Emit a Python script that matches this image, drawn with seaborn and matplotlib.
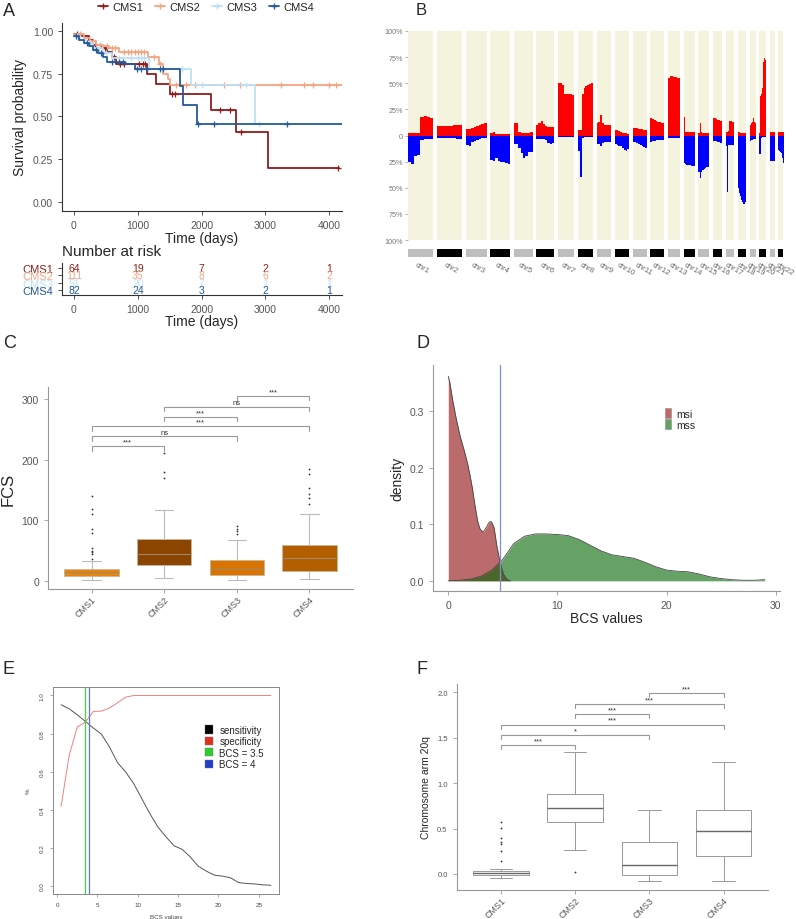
import numpy as np
import matplotlib
matplotlib.use('Agg')
import matplotlib.pyplot as plt
import matplotlib.transforms as mtransforms
from matplotlib.lines import Line2D
from matplotlib.patches import Patch
import seaborn as sns

sns.set_theme(style='ticks')
plt.rcParams['font.family'] = ['Liberation Sans', 'DejaVu Sans']

# ---------------- data ----------------
groups = ['CMS1', 'CMS2', 'CMS3', 'CMS4']
km_colors = ['#8E1E1E', '#F4A582', '#BDE0F6', '#255A9B']

# A: Kaplan-Meier step points (days, survival probability) and censor times
km1_time = [0, 120, 230, 300, 420, 520, 600, 660, 1150, 1290, 1500, 2140, 2540, 3040, 4150]
km1_surv = [0.98, 0.97, 0.95, 0.92, 0.90, 0.88, 0.85, 0.81, 0.75, 0.69, 0.63, 0.54, 0.41, 0.20, 0.20]
km1_cens = [40, 330, 480, 620, 720, 780, 1020, 1080, 1120, 1530, 1580, 2290, 2450, 2610, 4130]

km2_time = [0, 150, 250, 350, 450, 550, 700, 1160, 1330, 1400, 1470, 1510, 4200]
km2_surv = [0.98, 0.96, 0.94, 0.92, 0.91, 0.90, 0.88, 0.85, 0.81, 0.75, 0.72, 0.685, 0.685]
km2_cens = [100, 300, 400, 520, 600, 650, 780, 850, 900, 950, 1000, 1050, 1100, 1250, 1350,
            1600, 1750, 1900, 2350, 2600, 3250, 3600, 3750, 4000, 4100]

km3_time = [0, 100, 200, 300, 450, 600, 1170, 1840, 2830, 2910]
km3_surv = [0.97, 0.95, 0.93, 0.90, 0.87, 0.84, 0.78, 0.685, 0.456, 0.456]
km3_cens = [50, 250, 500, 700, 900, 1000, 1050, 1100, 1700, 2000, 2700, 2900]

km4_time = [0, 80, 160, 230, 300, 380, 450, 520, 800, 960, 1665, 1710, 1920, 4200]
km4_surv = [0.97, 0.95, 0.93, 0.91, 0.89, 0.87, 0.85, 0.82, 0.81, 0.78, 0.68, 0.57, 0.455, 0.455]
km4_cens = [30, 200, 350, 420, 600, 700, 770, 980, 1050, 1150, 1350, 1400, 1950, 2200, 3340]

risk_times = [0, 1000, 2000, 3000, 4000]
risk_cms1 = [64, 19, 7, 2, 1]
risk_cms2 = [111, 35, 8, 6, 2]
risk_cms3 = [51, 20, 7, 1, 1]
risk_cms4 = [82, 24, 3, 2, 1]

# B: copy number gain / loss frequency (%), 8 bins per chromosome
chrom_names = ['chr%d' % i for i in range(1, 23)]
chrom_len_mb = [249, 243, 198, 191, 181, 171, 159, 146, 141, 136, 135, 134,
                115, 107, 103, 90, 81, 78, 59, 63, 48, 51]
chrom_gain = [
    [2, 2, 2, 2, 18, 19, 18, 17], [9, 9, 9, 9, 9, 10, 10, 10], [6, 6, 7, 8, 9, 10, 11, 12],
    [2, 3, 1, 1, 1, 1, 1, 1], [12, 12, 3, 2, 2, 2, 2, 3], [10, 12, 14, 11, 9, 8, 8, 8],
    [50, 50, 48, 40, 40, 40, 40, 39], [5, 5, 40, 45, 47, 48, 49, 50], [12, 13, 20, 12, 10, 10, 10, 10],
    [5, 5, 4, 3, 2, 2, 2, 1], [7, 7, 7, 6, 6, 6, 5, 5], [17, 16, 15, 14, 13, 13, 12, 12],
    [55, 57, 57, 56, 56, 56, 55, 55], [18, 3, 3, 3, 3, 3, 3, 3], [2, 12, 3, 2, 2, 2, 2, 2],
    [17, 17, 17, 16, 15, 15, 14, 14], [3, 3, 4, 14, 14, 14, 13, 13], [3, 3, 2, 2, 2, 2, 2, 2],
    [8, 10, 12, 13, 15, 17, 13, 12], [2, 38, 40, 45, 55, 70, 74, 72], [15, 3, 3, 3, 3, 3, 3, 3],
    [3, 3, 3, 3, 3, 3, 3, 3]]
chrom_loss = [
    [25, 27, 20, 19, 4, 3, 3, 3], [2, 2, 2, 2, 2, 2, 3, 3], [9, 10, 6, 5, 4, 3, 2, 2],
    [23, 24, 22, 24, 25, 25, 26, 27], [8, 8, 12, 17, 22, 20, 16, 16], [3, 3, 3, 3, 4, 7, 8, 7],
    [1, 1, 1, 1, 1, 1, 1, 1], [15, 40, 2, 1, 1, 1, 1, 1], [8, 8, 10, 7, 6, 6, 6, 6],
    [8, 9, 10, 10, 12, 14, 15, 13], [6, 6, 7, 8, 9, 10, 11, 12], [6, 5, 5, 4, 4, 4, 4, 4],
    [2, 2, 2, 2, 2, 2, 2, 2], [26, 27, 28, 28, 28, 29, 29, 29], [35, 41, 35, 33, 32, 31, 30, 30],
    [5, 5, 5, 5, 6, 6, 7, 7], [10, 54, 9, 9, 9, 9, 9, 9], [50, 55, 58, 62, 64, 66, 66, 64],
    [5, 5, 4, 4, 4, 3, 3, 3], [18, 18, 2, 1, 1, 1, 1, 1], [22, 24, 24, 24, 24, 24, 24, 24],
    [14, 15, 15, 16, 17, 18, 22, 26]]

# C: FCS box summaries per CMS
fcs_q1 = [8.3, 26.4, 9.9, 15.4]
fcs_med = [13.8, 44, 19.3, 38]
fcs_q3 = [19.3, 68.8, 33.6, 59.4]
fcs_lo = [1, 3.9, 1, 2.2]
fcs_hi = [32, 116, 66.6, 109.5]
fcs_out = [[140, 119, 110, 86, 78, 53, 49.5, 47, 44, 35], [210.7, 178.8, 169],
           [89.7, 85, 82, 77], [184, 176, 153, 143, 136.4, 127]]
fcs_fill = ['#E8850F', '#8B4500', '#D97400', '#B35F00']
c_pairs = [(0, 1), (0, 2), (0, 3), (1, 2), (1, 3), (2, 3)]
c_labels = ['***', 'ns', '***', '***', 'ns', '***']
c_heights = [221.8, 238.3, 254.8, 270.6, 287, 305]

# D: density curves of BCS values
msi_x = [0, 0.15, 0.4, 0.75, 1.1, 1.5, 1.8, 2.0, 2.2, 2.45, 2.7, 2.9, 3.2, 3.5, 3.75, 3.95,
         4.2, 4.45, 4.75, 5.05, 5.35, 5.7]
msi_d = [0.362, 0.35, 0.32, 0.285, 0.255, 0.228, 0.205, 0.186, 0.165, 0.133, 0.105, 0.092,
         0.086, 0.095, 0.104, 0.105, 0.094, 0.062, 0.032, 0.012, 0.003, 0.0]
mss_x = list(range(0, 30))
mss_d = [0.0, 0.001, 0.003, 0.008, 0.019, 0.038, 0.066, 0.079, 0.083, 0.083, 0.082, 0.080,
         0.073, 0.063, 0.053, 0.046, 0.043, 0.040, 0.033, 0.025, 0.019, 0.017, 0.016, 0.012,
         0.007, 0.004, 0.002, 0.001, 0.001, 0.002]
bcs_cut = 4.77

# E: sensitivity / specificity by BCS threshold
bcs_thr = [i + 0.5 for i in range(27)]
sensitivity = [0.951, 0.930, 0.899, 0.864, 0.829, 0.797, 0.729, 0.647, 0.598, 0.537, 0.458,
               0.379, 0.309, 0.257, 0.210, 0.192, 0.152, 0.103, 0.077, 0.056, 0.051, 0.042,
               0.017, 0.012, 0.010, 0.005, 0.003]
specificity = [0.418, 0.685, 0.834, 0.860, 0.916, 0.918, 0.934, 0.962, 0.991] + [1.0] * 18
e_cutoffs = [3.5, 4]

# F: chromosome arm 20q box summaries
arm_q1 = [-0.011, 0.569, -0.007, 0.202]
arm_med = [0.007, 0.727, 0.103, 0.47]
arm_q3 = [0.029, 0.884, 0.349, 0.708]
arm_lo = [-0.048, 0.264, -0.081, -0.081]
arm_hi = [0.055, 1.343, 0.705, 1.229]
arm_out = [[0.576, 0.503, 0.393, 0.349, 0.330, 0.253, 0.147], [0.018], [], []]
f_pairs = [(0, 1), (0, 2), (0, 3), (1, 2), (1, 3), (2, 3)]
f_labels = ['***', '*', '***', '***', '***', '***']
f_heights = [1.417, 1.530, 1.644, 1.758, 1.868, 1.989]

# ---------------- figure ----------------
W, H = 796, 920
fig = plt.figure(figsize=(W / 100, H / 100), dpi=100)
txt_grey = '#555555'


def px_axes(left, top, right, bottom):
    return fig.add_axes([left / W, 1 - bottom / H, (right - left) / W, (bottom - top) / H])


def step_value(times, surv, at):
    idx = np.searchsorted(times, at, side='right') - 1
    return np.asarray(surv)[idx]


def style_gg(ax, spine_col='#999999', size=7.5):
    sns.despine(ax=ax)
    for s in ['left', 'bottom']:
        ax.spines[s].set_color(spine_col)
        ax.spines[s].set_linewidth(0.8)
    ax.tick_params(labelsize=size, labelcolor=txt_grey, color=spine_col, length=3, width=0.6)


def tilt_xlabels(ax, size):
    ax.tick_params(axis='x', labelsize=size, pad=1)
    for lab in ax.get_xticklabels():
        lab.set_rotation(45)
        lab.set_ha('right')
        lab.set_rotation_mode('anchor')


# panel labels
for lab, x, y, fs in [('A', 3, 3, 13), ('B', 416, 3, 12), ('C', 3, 335, 13),
                      ('D', 416, 335, 13), ('E', 3, 661, 13), ('F', 416, 661, 13)]:
    fig.text(x / W, 1 - y / H, lab, va='top', ha='left', fontsize=fs)

# ---- A: survival curves ----
ax = px_axes(62, 24, 342, 212)
km_sets = [(km1_time, km1_surv, km1_cens), (km2_time, km2_surv, km2_cens),
           (km3_time, km3_surv, km3_cens), (km4_time, km4_surv, km4_cens)]
for (t, s, c), col in zip(km_sets, km_colors):
    sns.lineplot(x=t, y=s, ax=ax, color=col, lw=1.3, drawstyle='steps-post',
                 estimator=None, sort=False, legend=False)
    ax.plot(c, step_value(t, s, c), ls='none', marker='+', ms=4.5, mew=0.9, color=col)
ax.set_xlim(-188, 4200)
ax.set_ylim(-0.053, 1.047)
ax.set_xticks(risk_times)
ax.set_yticks([0, 0.25, 0.5, 0.75, 1.0])
ax.set_yticklabels(['0.00', '0.25', '0.50', '0.75', '1.00'])
style_gg(ax, spine_col='#333333')
ax.set_ylabel('Survival probability', fontsize=10)
ax.set_xlabel('Time (days)', fontsize=10, labelpad=1)
handles = [Line2D([], [], color=c, lw=1.3, marker='+', ms=4.5) for c in km_colors]
fig.legend(handles, groups, loc='upper center', bbox_to_anchor=(206 / W, 1.008), ncol=4,
           frameon=False, fontsize=8, handlelength=0.9, columnspacing=1.1, handletextpad=0.35)

# risk table
ax = px_axes(62, 264, 342, 296)
risk_rows = [risk_cms1, risk_cms2, risk_cms3, risk_cms4]
for row, (nums, col) in enumerate(zip(risk_rows, km_colors)):
    for t, n in zip(risk_times, nums):
        ax.text(t, row, str(n), color=col, ha='center', va='center', fontsize=7.5)
ax.set_xlim(-188, 4200)
ax.set_ylim(3.6, -0.6)
ax.set_yticks(range(4))
ax.set_yticklabels(groups)
ax.set_xticks(risk_times)
style_gg(ax, spine_col='#333333')
ax.tick_params(axis='y', labelsize=8)
for lab, col in zip(ax.get_yticklabels(), km_colors):
    lab.set_color(col)
ax.set_xlabel('Time (days)', fontsize=10, labelpad=0)
fig.text(62 / W, 1 - 252 / H, 'Number at risk', fontsize=11, va='center', ha='left')

# ---- B: copy number profile ----
gap = 35
chrom_start = np.concatenate([[0], np.cumsum(np.array(chrom_len_mb) + gap)[:-1]])
genome_end = chrom_start[-1] + chrom_len_mb[-1]
ax = px_axes(407.5, 32, 783.5, 241)
ax.bar(chrom_start, 200, width=chrom_len_mb, bottom=-100, align='edge', color='#F4F3DD', lw=0)
for st, ln, gain, loss in zip(chrom_start, chrom_len_mb, chrom_gain, chrom_loss):
    xs = st + np.arange(len(gain) + 1) * ln / len(gain)
    ax.fill_between(xs, 0, list(gain) + [gain[-1]], step='post', color='#FF0000', lw=0)
    ax.fill_between(xs, 0, [-v for v in loss] + [-loss[-1]], step='post', color='#0000FF', lw=0)
ax.set_xlim(0, genome_end)
ax.set_ylim(-100, 100)
ax.set_xticks([])
ax.set_yticks([100, 75, 50, 25, 0, -25, -50, -75, -100])
ax.set_yticklabels(['100%', '75%', '50%', '25%', '0', '25%', '50%', '75%', '100%'])
ax.tick_params(axis='y', labelsize=5.2, labelcolor='#777777', color='#999999', length=2,
               width=0.5, pad=1.5)
for s in ax.spines.values():
    s.set_visible(False)

ax_id = px_axes(407.5, 250, 783.5, 258)
ax_id.bar(chrom_start, 1, width=chrom_len_mb, align='edge', lw=0,
          color=['#BEBEBE' if i % 2 == 0 else '#000000' for i in range(len(chrom_names))])
ax_id.set_xlim(0, genome_end)
ax_id.set_ylim(0, 1)
ax_id.axis('off')
tr = mtransforms.blended_transform_factory(ax_id.transData, ax_id.transAxes)
for st, ln, name in zip(chrom_start, chrom_len_mb, chrom_names):
    ax_id.text(st + ln / 2 - 30, -0.5, name, transform=tr, rotation=-30, ha='left', va='top',
               rotation_mode='anchor', fontsize=5.6, color='#666666')

# ---- C: FCS boxplots ----
ax = px_axes(48, 388, 353, 590)
c_stats = [dict(med=m, q1=a, q3=b, whislo=lo, whishi=hi, fliers=f)
           for m, a, b, lo, hi, f in zip(fcs_med, fcs_q1, fcs_q3, fcs_lo, fcs_hi, fcs_out)]
bp = ax.bxp(c_stats, positions=range(4), widths=0.75, patch_artist=True, capwidths=0.25,
            boxprops=dict(lw=0.6, edgecolor='#C9B79C'),
            whiskerprops=dict(color='#BBBBBB', lw=0.8), capprops=dict(color='#BBBBBB', lw=0.8),
            medianprops=dict(color='#A08866', lw=0.8),
            flierprops=dict(marker='o', ms=1.3, mew=0, mfc='#333333'))
for patch, col in zip(bp['boxes'], fcs_fill):
    patch.set_facecolor(col)
for (i, j), lab, h in zip(c_pairs, c_labels, c_heights):
    ax.plot([i, i, j, j], [h - 7, h, h, h - 7], color='#999999', lw=0.8)
    ax.text((i + j) / 2, h + 1.5, lab, ha='center', va='bottom', fontsize=5.5, color='#333333')
ax.set_xlim(-0.6, 3.6)
ax.set_ylim(-14, 320)
ax.set_xticks(range(4))
ax.set_xticklabels(groups)
ax.set_yticks([0, 100, 200, 300])
style_gg(ax)
tilt_xlabels(ax, 6.5)
ax.set_ylabel('FCS', fontsize=12)

# ---- D: density of BCS values ----
ax = px_axes(433, 366, 780, 592)
ax.fill_between(msi_x, 0, msi_d, color='#8B0000', alpha=0.58, lw=0)
ax.fill_between(mss_x, 0, mss_d, color='#006400', alpha=0.6, lw=0)
sns.lineplot(x=msi_x, y=msi_d, ax=ax, color='#444444', lw=0.6, estimator=None, sort=False)
sns.lineplot(x=mss_x, y=mss_d, ax=ax, color='#444444', lw=0.6, estimator=None, sort=False)
ax.axvline(bcs_cut, color='#7F8FD0', lw=0.9)
ax.set_xlim(-1.4, 30.4)
ax.set_ylim(-0.018, 0.382)
ax.set_xticks([0, 10, 20, 30])
ax.set_yticks([0, 0.1, 0.2, 0.3])
ax.set_yticklabels(['0.0', '0.1', '0.2', '0.3'])
style_gg(ax)
ax.set_xlabel('BCS values', fontsize=10, labelpad=1)
ax.set_ylabel('density', fontsize=10)
d_handles = [Patch(facecolor='#8B0000', alpha=0.58, edgecolor='#666666', lw=0.4),
             Patch(facecolor='#006400', alpha=0.6, edgecolor='#666666', lw=0.4)]
fig.legend(d_handles, ['msi', 'mss'], loc='upper left', bbox_to_anchor=(660 / W, 1 - 404 / H),
           frameon=False, fontsize=7.5, handlelength=0.6, handleheight=1.1, labelspacing=0.05,
           handletextpad=0.5, borderpad=0)

# ---- E: sensitivity / specificity ----
ax = px_axes(52.7, 688.3, 279.3, 895)
sns.lineplot(x=bcs_thr, y=sensitivity, ax=ax, color='#555555', lw=0.7, estimator=None, sort=False)
sns.lineplot(x=bcs_thr, y=specificity, ax=ax, color='#F08080', lw=0.7, estimator=None, sort=False)
for xv, col in zip(e_cutoffs, ['#44D444', '#5A78D8']):
    ax.axvline(xv, color=col, lw=0.9)
ax.set_xlim(-0.54, 27.54)
ax.set_ylim(-0.043, 1.043)
ax.set_xticks([0, 5, 10, 15, 20, 25])
ax.set_yticks([0, 0.2, 0.4, 0.6, 0.8, 1.0])
ax.set_yticklabels(['0.0', '0.2', '0.4', '0.6', '0.8', '1.0'], rotation=90, va='center')
for s in ax.spines.values():
    s.set_color('#888888')
    s.set_linewidth(0.7)
ax.tick_params(labelsize=4.5, labelcolor='#444444', color='#888888', length=2.5, width=0.5)
ax.set_xlabel('BCS values', fontsize=4.5, color='#444444', labelpad=5)
ax.set_ylabel('%', fontsize=4.5, color='#444444', labelpad=6)
e_handles = [Patch(facecolor=c, edgecolor='#777777', lw=0.3)
             for c in ['#000000', '#E0301E', '#2ECC2E', '#2040CC']]
fig.legend(e_handles, ['sensitivity', 'specificity', 'BCS = 3.5', 'BCS = 4'], loc='upper left',
           bbox_to_anchor=(200 / W, 1 - 721 / H), frameon=False, fontsize=7, handlelength=0.8,
           handleheight=0.9, labelspacing=0.15, handletextpad=0.7, borderpad=0)

# ---- F: chromosome arm 20q boxplots ----
ax = px_axes(456.7, 685, 768, 891)
f_stats = [dict(med=m, q1=a, q3=b, whislo=lo, whishi=hi, fliers=f)
           for m, a, b, lo, hi, f in zip(arm_med, arm_q1, arm_q3, arm_lo, arm_hi, arm_out)]
ax.bxp(f_stats, positions=range(4), widths=0.75, patch_artist=True, capwidths=0.3,
       boxprops=dict(lw=0.7, edgecolor='#999999', facecolor='white'),
       whiskerprops=dict(color='#999999', lw=0.7), capprops=dict(color='#999999', lw=0.7),
       medianprops=dict(color='#666666', lw=1.0),
       flierprops=dict(marker='o', ms=1.3, mew=0, mfc='#333333'))
for (i, j), lab, h in zip(f_pairs, f_labels, f_heights):
    ax.plot([i, i, j, j], [h - 0.045, h, h, h - 0.045], color='#999999', lw=0.8)
    ax.text((i + j) / 2, h + 0.01, lab, ha='center', va='bottom', fontsize=5.5, color='#333333')
ax.set_xlim(-0.6, 3.6)
ax.set_ylim(-0.176, 2.09)
ax.set_xticks(range(4))
ax.set_xticklabels(groups)
ax.set_yticks([0, 0.5, 1.0, 1.5, 2.0])
ax.set_yticklabels(['0.0', '0.5', '1.0', '1.5', '2.0'])
style_gg(ax, size=5.5)
tilt_xlabels(ax, 6.4)
ax.set_ylabel('Chromosome arm 20q', fontsize=7.5)

fig.savefig('out.png', dpi=100)
